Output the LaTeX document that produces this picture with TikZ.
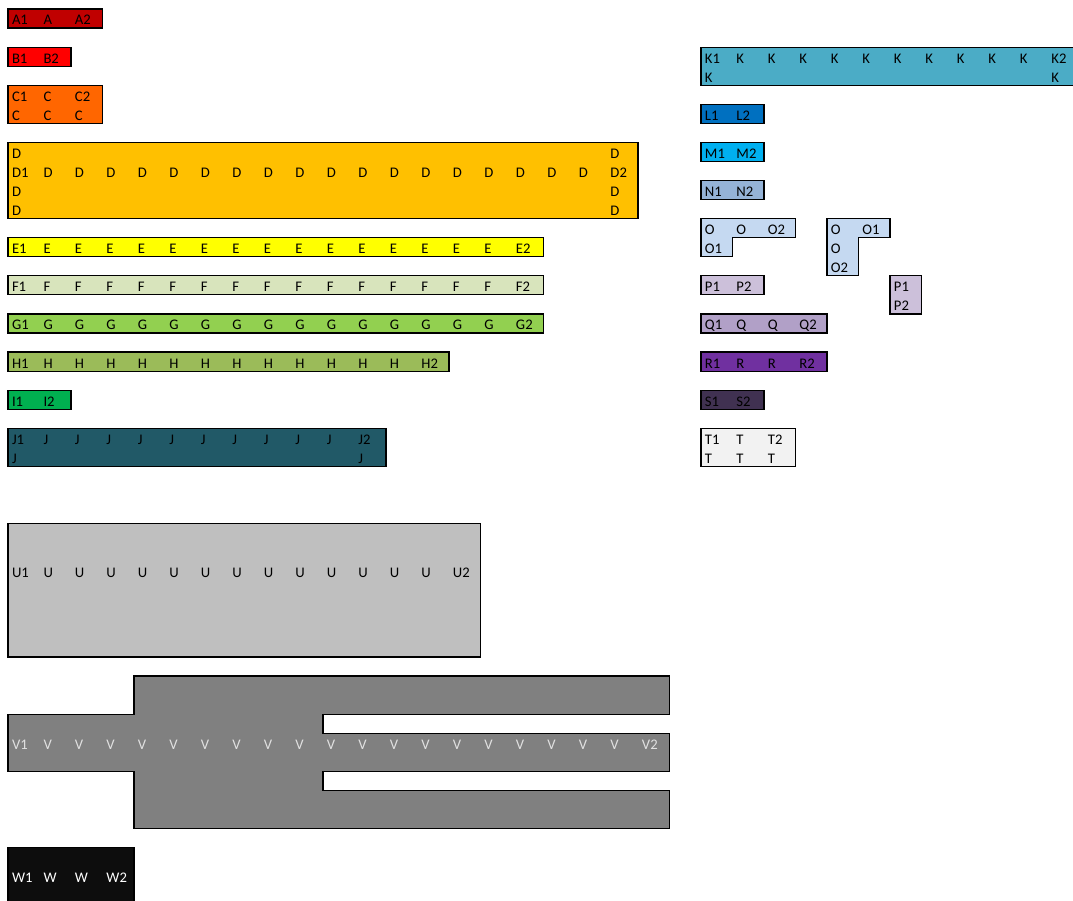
\documentclass[tikz,border=0pt]{standalone}
\usepackage{fontspec}
\setmainfont{Carlito}
\definecolor{xlDarkRed}{RGB}{192,0,0}
\definecolor{xlRed}{RGB}{255,0,0}
\definecolor{xlOrange}{RGB}{255,102,0}
\definecolor{xlGold}{RGB}{255,192,0}
\definecolor{xlYellow}{RGB}{255,255,0}
\definecolor{xlPaleGreen}{RGB}{216,228,188}
\definecolor{xlLightGreen}{RGB}{146,208,80}
\definecolor{xlOlive}{RGB}{155,187,89}
\definecolor{xlGreen}{RGB}{0,176,80}
\definecolor{xlDarkTeal}{RGB}{33,89,103}
\definecolor{xlAqua}{RGB}{75,172,198}
\definecolor{xlBlue}{RGB}{0,112,192}
\definecolor{xlSkyBlue}{RGB}{0,176,240}
\definecolor{xlSteelBlue}{RGB}{149,179,215}
\definecolor{xlIceBlue}{RGB}{197,217,241}
\definecolor{xlLavender}{RGB}{204,192,218}
\definecolor{xlLilac}{RGB}{177,160,199}
\definecolor{xlPurple}{RGB}{112,48,160}
\definecolor{xlDarkPurple}{RGB}{64,49,81}
\definecolor{xlSmoke}{RGB}{242,242,242}
\definecolor{xlSilver}{RGB}{191,191,191}
\definecolor{xlGray}{RGB}{128,128,128}
\definecolor{xlBlack}{RGB}{13,13,13}
\definecolor{xlPaleText}{RGB}{225,225,225}
\tikzset{
  cellbox/.style={draw=black, line width=0.9pt},
  celltext/.style={anchor=base west, inner sep=0pt, xshift=2.8pt, yshift=-4.8pt,
    font=\fontsize{11}{13}\selectfont},
}

\begin{document}
\begin{tikzpicture}[x=23.625pt,y=-14.295pt]
\useasboundingbox (-0.254,-0.472) rectangle (33.810,46.800);
\clip (-0.254,-0.472) rectangle (33.810,46.800);

% left column of blocks
\draw[cellbox, fill=xlDarkRed] (0,0) rectangle (3,1);
\foreach \t [count=\i from 0] in {A1,A,A2}
  \node[celltext] (a-\i) at (\i,0.5) {\t};

\draw[cellbox, fill=xlRed] (0,2) rectangle (2,3);
\foreach \t [count=\i from 0] in {B1,B2}
  \node[celltext] (b-\i) at (\i,2.5) {\t};

\draw[cellbox, fill=xlOrange] (0,4) rectangle (3,6);
\foreach \t [count=\i from 0] in {C1,C,C2}
  \node[celltext] (c-\i) at (\i,4.5) {\t};
\foreach \i in {0,1,2}
  \node[celltext] (cc-\i) at (\i,5.5) {C};

\draw[cellbox, fill=xlGold] (0,7) rectangle (20,11);
\node[celltext] (d-0) at (0,8.5) {D1};
\foreach \i in {1,...,18}
  \node[celltext] (d-\i) at (\i,8.5) {D};
\node[celltext] (d-19) at (19,8.5) {D2};
\foreach \r in {7,9,10} {
  \node[celltext] (dl-\r) at (0,\r+0.5) {D};
  \node[celltext] (dr-\r) at (19,\r+0.5) {D};
}

\draw[cellbox, fill=xlYellow] (0,12) rectangle (17,13);
\draw[cellbox, fill=xlPaleGreen] (0,14) rectangle (17,15);
\draw[cellbox, fill=xlLightGreen] (0,16) rectangle (17,17);
\foreach \l/\r in {E/12,F/14,G/16} {
  \node[celltext] (\l-0) at (0,\r+0.5) {\l1};
  \foreach \i in {1,...,15}
    \node[celltext] (\l-\i) at (\i,\r+0.5) {\l};
  \node[celltext] (\l-16) at (16,\r+0.5) {\l2};
}

\draw[cellbox, fill=xlOlive] (0,18) rectangle (14,19);
\node[celltext] (h-0) at (0,18.5) {H1};
\foreach \i in {1,...,12}
  \node[celltext] (h-\i) at (\i,18.5) {H};
\node[celltext] (h-13) at (13,18.5) {H2};

\draw[cellbox, fill=xlGreen] (0,20) rectangle (2,21);
\foreach \t [count=\i from 0] in {I1,I2}
  \node[celltext] (i-\i) at (\i,20.5) {\t};

\draw[cellbox, fill=xlDarkTeal] (0,22) rectangle (12,24);
\node[celltext] (j-0) at (0,22.5) {J1};
\foreach \i in {1,...,10}
  \node[celltext] (j-\i) at (\i,22.5) {J};
\node[celltext] (j-11) at (11,22.5) {J2};
\node[celltext] (jl) at (0,23.5) {J};
\node[celltext] (jr) at (11,23.5) {J};

% right column of blocks
\draw[cellbox, fill=xlAqua] (22,2) rectangle (34,4);
\node[celltext] (k-0) at (22,2.5) {K1};
\foreach \i in {23,...,32}
  \node[celltext] (k-\i) at (\i,2.5) {K};
\node[celltext] (k-33) at (33,2.5) {K2};
\node[celltext] (kl) at (22,3.5) {K};
\node[celltext] (kr) at (33,3.5) {K};

\draw[cellbox, fill=xlBlue] (22,5) rectangle (24,6);
\draw[cellbox, fill=xlSkyBlue] (22,7) rectangle (24,8);
\draw[cellbox, fill=xlSteelBlue] (22,9) rectangle (24,10);
\draw[cellbox, fill=xlLavender] (22,14) rectangle (24,15);
\draw[cellbox, fill=xlDarkPurple] (22,20) rectangle (24,21);
\foreach \l/\r in {L/5,M/7,N/9,P/14,S/20} {
  \node[celltext] (\l-a) at (22,\r+0.5) {\l1};
  \node[celltext] (\l-b) at (23,\r+0.5) {\l2};
}

\draw[cellbox, fill=xlIceBlue] (22,11) -- (25,11) -- (25,12) -- (23,12) -- (23,13) -- (22,13) -- cycle;
\foreach \t [count=\i from 22] in {O,O,O2}
  \node[celltext] (o-\i) at (\i,11.5) {\t};
\node[celltext] (o-1) at (22,12.5) {O1};

\draw[cellbox, fill=xlIceBlue] (26,11) -- (28,11) -- (28,12) -- (27,12) -- (27,14) -- (26,14) -- cycle;
\foreach \t [count=\i from 11] in {O,O,O2}
  \node[celltext] (ov-\i) at (26,\i+0.5) {\t};
\node[celltext] (ov-1) at (27,11.5) {O1};

\draw[cellbox, fill=xlLavender] (28,14) rectangle (29,16);
\node[celltext] (pv-1) at (28,14.5) {P1};
\node[celltext] (pv-2) at (28,15.5) {P2};

\draw[cellbox, fill=xlLilac] (22,16) rectangle (26,17);
\draw[cellbox, fill=xlPurple] (22,18) rectangle (26,19);
\foreach \l/\r in {Q/16,R/18} {
  \node[celltext] (\l-a) at (22,\r+0.5) {\l1};
  \node[celltext] (\l-b) at (23,\r+0.5) {\l};
  \node[celltext] (\l-c) at (24,\r+0.5) {\l};
  \node[celltext] (\l-d) at (25,\r+0.5) {\l2};
}

\draw[cellbox, fill=xlSmoke] (22,22) rectangle (25,24);
\foreach \t [count=\i from 22] in {T1,T,T2}
  \node[celltext] (t-\i) at (\i,22.5) {\t};
\foreach \i in {22,23,24}
  \node[celltext] (tt-\i) at (\i,23.5) {T};

% large blocks at the bottom
\draw[cellbox, fill=xlSilver] (0,27) rectangle (15,34);
\node[celltext] (u-0) at (0,29.5) {U1};
\foreach \i in {1,...,13}
  \node[celltext] (u-\i) at (\i,29.5) {U};
\node[celltext] (u-14) at (14,29.5) {U2};

\draw[cellbox, fill=xlGray] (4,35) -- (21,35) -- (21,37) -- (10,37) -- (10,38) -- (21,38)
  -- (21,40) -- (10,40) -- (10,41) -- (21,41) -- (21,43) -- (4,43) -- (4,40) -- (0,40)
  -- (0,37) -- (4,37) -- cycle;
\node[celltext, text=xlPaleText] (v-0) at (0,38.5) {V1};
\foreach \i in {1,...,19}
  \node[celltext, text=xlPaleText] (v-\i) at (\i,38.5) {V};
\node[celltext, text=xlPaleText] (v-20) at (20,38.5) {V2};

\draw[cellbox, fill=xlBlack] (0,44) rectangle (4,48);
\foreach \t [count=\i from 0] in {W1,W,W,W2}
  \node[celltext, text=white] (w-\i) at (\i,45.5) {\t};
\end{tikzpicture}
\end{document}
